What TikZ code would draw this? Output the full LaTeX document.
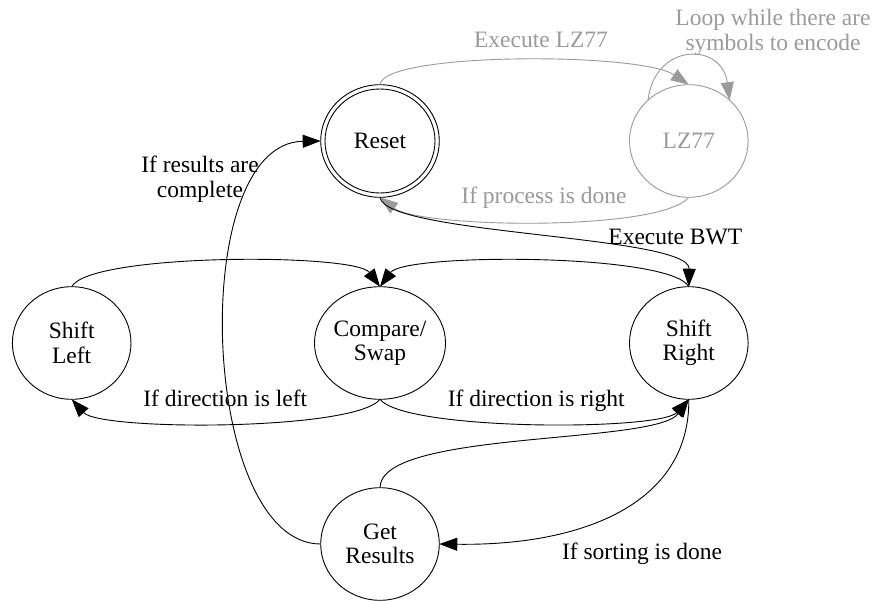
\documentclass[tikz,border=0pt]{standalone}
\usepackage{fontspec}
\setmainfont{Liberation Serif}
\usetikzlibrary{arrows.meta,shapes.geometric}
\definecolor{lzgray}{RGB}{155,155,155}
\newcommand{\dgfont}{\fontsize{23.5}{24.5}\selectfont}
\tikzset{
  state/.style={ellipse, draw, line width=0.9pt, minimum width=118.6pt,
    minimum height=112.6pt, inner sep=0pt, outer sep=0pt, align=center, font=\dgfont},
  edge/.style={draw, line width=0.9pt, -{Triangle[length=18pt,width=13pt]}},
  lbl/.style={font=\dgfont, inner sep=0pt, align=center},
  faded/.style={draw=lzgray, text=lzgray, color=lzgray},
}
\begin{document}
\begin{tikzpicture}[x=1pt,y=-1pt]
  \path[fill=white] (0,0) rectangle (876,602);
  \useasboundingbox (0,0) rectangle (876,602);

  % states
  \node[state] (reset) at (380,141) {Reset};
  \draw[line width=0.9pt] (reset.center) ellipse [x radius=55pt, y radius=52pt];
  \node[state, faded] (lz) at (688.8,141) {LZ77};
  \node[state] (sl) at (71.7,343) {Shift\\Left};
  \node[state] (cs) at (380,343) {Compare/\\Swap};
  \node[state] (sr) at (688.8,343) {Shift\\Right};
  \node[state] (gr) at (380,544) {Get\\Results};

  % LZ77 branch
  \draw[edge, faded] (reset.north) .. controls (383,52) and (640,52) .. (lz.north);
  \draw[edge, faded] (lz.135) .. controls (655,42) and (722,42) .. (lz.45);
  \draw[edge, faded] (lz.south) .. controls (660,232) and (420,228) .. (reset.south);

  % BWT branch
  \draw[edge] (reset.south) .. controls (385,235) and (690,235) .. (sr.north);
  \draw[edge] (sl.north) .. controls (90,253) and (355,253) .. (cs.north);
  \draw[edge] (sr.north) .. controls (670,253) and (405,253) .. (cs.north);
  \draw[edge] (cs.south) .. controls (355,431) and (100,431) .. (sl.south);
  \draw[edge] (cs.south) .. controls (405,431) and (660,431) .. (sr.south);
  \draw[edge] (gr.north) .. controls (380,430) and (655,445) .. (sr.south);
  \draw[edge] (sr.south) .. controls (690,505) and (580,546) .. (gr.east);
  \draw[edge] (gr.west) .. controls (200,544) and (186,143) .. (reset.west);

  % edge labels
  \node[lbl, text=lzgray, anchor=base] (l1) at (541,47.7) {Execute LZ77};
  \node[lbl, text=lzgray] (l2) at (773,32.2) {Loop while there are\\symbols to encode};
  \node[lbl, text=lzgray, anchor=base] (l3) at (544,203.3) {If process is done};
  \node[lbl, anchor=base] (l4) at (675.3,244) {Execute BWT};
  \node[lbl] (l5) at (200,179.2) {If results are\\complete};
  \node[lbl, anchor=base] (l6) at (225.3,406) {If direction is left};
  \node[lbl, anchor=base] (l7) at (536.2,406) {If direction is right};
  \node[lbl, anchor=base] (l8) at (642,559) {If sorting is done};
\end{tikzpicture}
\end{document}
